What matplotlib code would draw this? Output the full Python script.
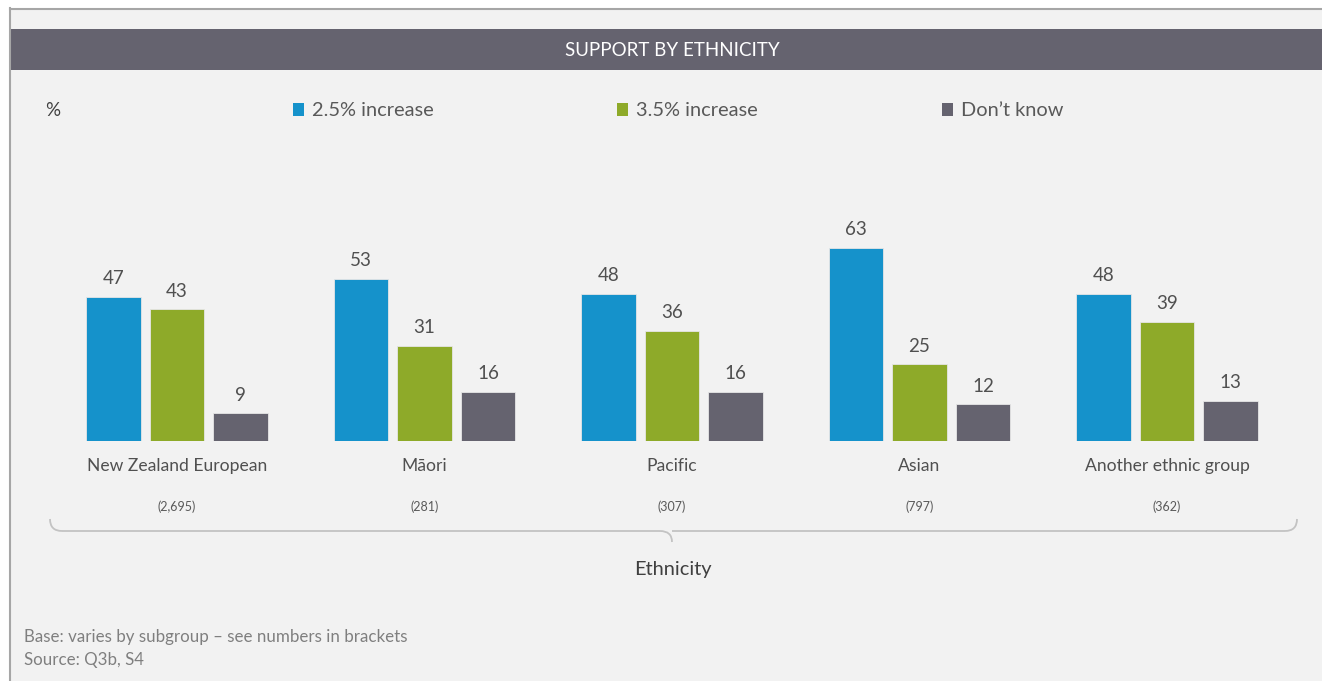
import numpy as np
import matplotlib.pyplot as plt
from matplotlib.patches import Rectangle
from matplotlib.path import Path
from matplotlib.patches import PathPatch

plt.rcParams['font.family'] = ['Lato', 'DejaVu Sans']

# Data
groups = ['New Zealand European', 'Māori', 'Pacific', 'Asian', 'Another ethnic group']
bases = ['(2,695)', '(281)', '(307)', '(797)', '(362)']
series_names = ['2.5% increase', '3.5% increase', 'Don’t know']
inc_25 = [47, 53, 48, 63, 48]
inc_35 = [43, 31, 36, 25, 39]
dont_know = [9, 16, 16, 12, 13]
colors = ['#1592cb', '#8eaa29', '#65636f']

W, H = 1322, 681
fig = plt.figure(figsize=(W / 100, H / 100), dpi=100)
fig.patch.set_facecolor('white')

# background layer in pixel coordinates
bg = fig.add_axes([0, 0, 1, 1])
bg.set_xlim(0, W)
bg.set_ylim(H, 0)
bg.axis('off')
bg.add_patch(Rectangle((10, 8), W - 10, H - 8, facecolor='#f2f2f2', edgecolor='none'))
bg.plot([10, W], [8.5, 8.5], color='#a6a6a6', lw=1.5)
bg.plot([9.5, 9.5], [8, H], color='#a6a6a6', lw=1.5)
bg.add_patch(Rectangle((10, 29), W - 10, 41, facecolor='#65636f', edgecolor='none'))
bg.text(672, 50, 'SUPPORT BY ETHNICITY', color='white', fontsize=13.5,
        ha='center', va='center')

# legend row
bg.text(45, 110, '%', fontsize=13.5, color='#404040', ha='left', va='center')
leg_x = [293, 617, 942]
for lx, name, c in zip(leg_x, series_names, colors):
    bg.add_patch(Rectangle((lx, 103), 11, 13, facecolor=c, edgecolor='none'))
    bg.text(lx + 19, 110, name, fontsize=14.4, color='#595959', ha='left', va='center')

# brace under the categories
verts = [(50, 519), (50, 531), (62, 531), (62, 531),
         (660, 531), (660, 531), (672, 531), (672, 542),
         (672, 531), (684, 531), (684, 531),
         (1285, 531), (1285, 531), (1297, 531), (1297, 519)]
codes = [Path.MOVETO, Path.CURVE3, Path.CURVE3, Path.MOVETO,
         Path.LINETO, Path.MOVETO, Path.CURVE3, Path.CURVE3,
         Path.MOVETO, Path.CURVE3, Path.CURVE3,
         Path.LINETO, Path.MOVETO, Path.CURVE3, Path.CURVE3]
bg.add_patch(PathPatch(Path(verts, codes), facecolor='none', edgecolor='#c3c3c3', lw=1.3))
bg.text(673, 570, 'Ethnicity', fontsize=14.4, color='#404040', ha='center', va='center')

bg.text(24, 637, 'Base: varies by subgroup – see numbers in brackets',
        fontsize=12.2, color='#7f7f7f', ha='left', va='center')
bg.text(24, 660, 'Source: Q3b, S4', fontsize=12.2, color='#7f7f7f', ha='left', va='center')

# bar chart axes
left_px, right_px = 53.25, 1290.75
base_px = 441
ppu = 3.064
ymax = 70
ax = fig.add_axes([left_px / W, (H - base_px) / H, (right_px - left_px) / W,
                   ymax * ppu / H])
ax.set_xlim(-0.5, 4.5)
ax.set_ylim(0, ymax)
ax.axis('off')

x = np.arange(len(groups))
bw = 0.219
step = 0.2566
for i, (vals, c) in enumerate(zip([inc_25, inc_35, dont_know], colors)):
    xs = x + (i - 1) * step
    bars = ax.bar(xs, vals, width=bw, color=c, edgecolor='#e6e6e6', linewidth=0.6)
    for xi, v in zip(xs, vals):
        ax.annotate(str(v), (xi, v), xytext=(0, 7), textcoords='offset points',
                    ha='center', va='bottom', fontsize=13.5, color='#505050')

for xi, g, b in zip(x, groups, bases):
    ax.annotate(g, (xi, 0), xytext=(0, -18), textcoords='offset points',
                ha='center', va='center', fontsize=12.6, color='#505050',
                annotation_clip=False)
    ax.annotate(b, (xi, 0), xytext=(0, -47), textcoords='offset points',
                ha='center', va='center', fontsize=9, color='#595959',
                annotation_clip=False)

fig.savefig('out.png', dpi=100, facecolor=fig.get_facecolor())
